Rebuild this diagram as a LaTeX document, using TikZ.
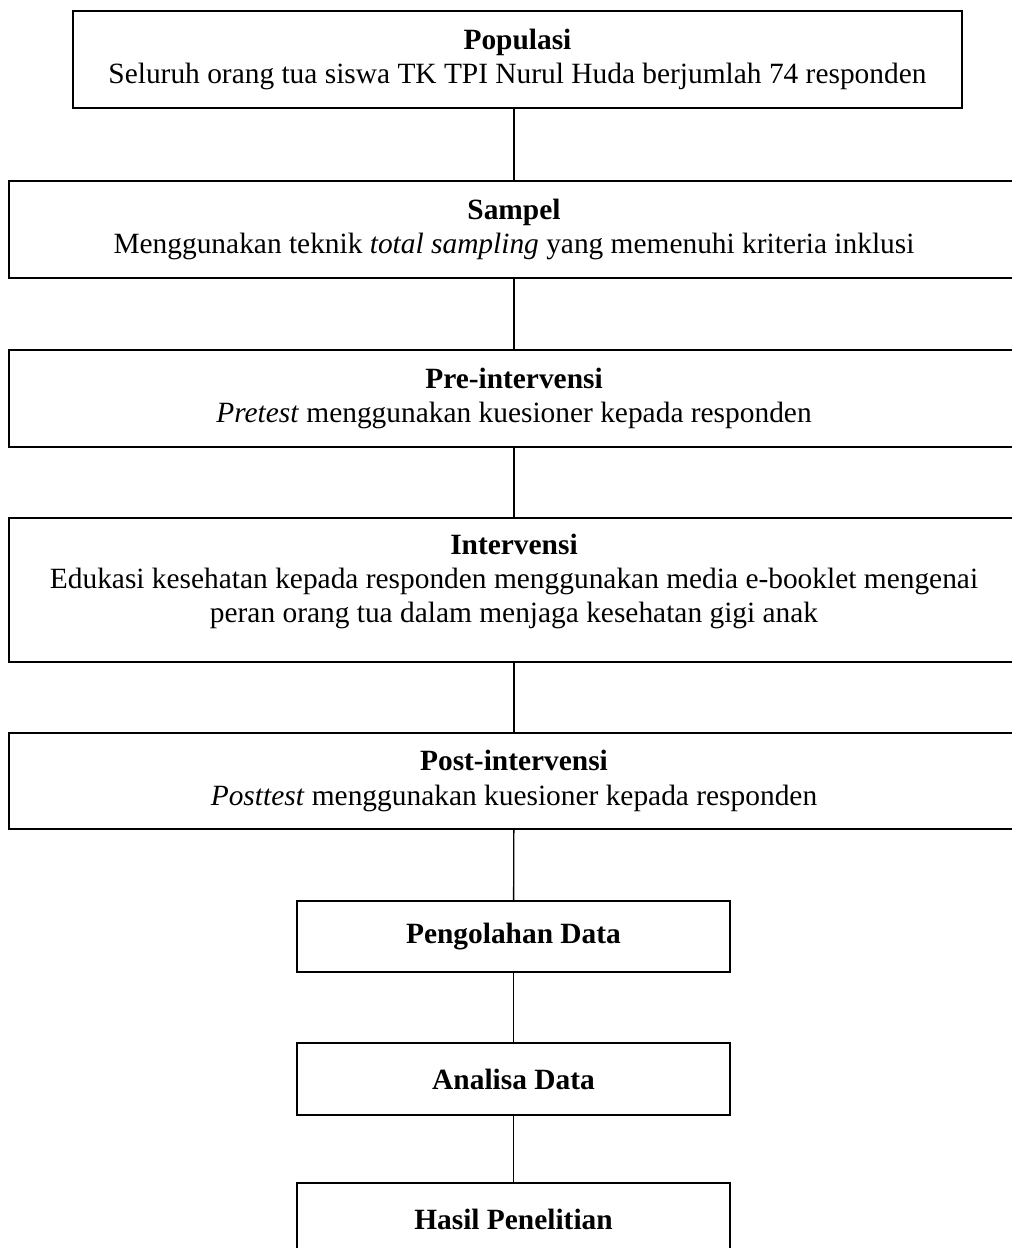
\documentclass[tikz,border=0pt]{standalone}
\usepackage{fontspec}
\setmainfont{Liberation Serif}
\usepackage{tikz}
\usetikzlibrary{positioning}

\begin{document}
\begin{tikzpicture}[x=0.415pt, y=-0.415pt, font=\fontsize{12.2}{14.2}\selectfont]
  \tikzstyle{stage}=[draw, line width=0.85pt, align=center, inner sep=0pt]
  \tikzstyle{link}=[line width=0.55pt]
  \clip (0,0) rectangle (1012,1248);
  \useasboundingbox (0,0) rectangle (1012,1248);
  \node[stage, minimum width=889*0.415pt, minimum height=97*0.415pt] (pop) at (517.5,59.5)
    {\textbf{Populasi}\\ Seluruh orang tua siswa TK TPI Nurul Huda berjumlah 74 responden};
  \node[stage, minimum width=1010*0.415pt, minimum height=97*0.415pt] (samp) at (514,229.5)
    {\textbf{Sampel}\\ Menggunakan teknik \textit{total sampling} yang memenuhi kriteria inklusi};
  \node[stage, minimum width=1010*0.415pt, minimum height=97*0.415pt] (pre) at (514,398.5)
    {\textbf{Pre-intervensi}\\ \textit{Pretest} menggunakan kuesioner kepada responden};
  \node[stage, minimum width=1010*0.415pt, minimum height=144*0.415pt] (intv) at (514,590)
    {\textbf{Intervensi}\\ Edukasi kesehatan kepada responden menggunakan media e-booklet mengenai\\ peran orang tua dalam menjaga kesehatan gigi anak\rule[-9.5pt]{0pt}{0pt}};
  \node[stage, minimum width=1010*0.415pt, minimum height=96*0.415pt] (post) at (514,781)
    {\textbf{Post-intervensi}\\ \textit{Posttest} menggunakan kuesioner kepada responden};
  \node[stage, minimum width=433*0.415pt, minimum height=71*0.415pt] (olah) at (513.5,936.5)
    {\textbf{Pengolahan Data}};
  \node[stage, minimum width=433*0.415pt, minimum height=72*0.415pt] (anls) at (513.5,1079)
    {\textbf{Analisa Data}};
  \node[stage, minimum width=433*0.415pt, minimum height=72*0.415pt] (hasil) at (513.5,1219)
    {\textbf{Hasil Penelitian}};
  \draw[link] (samp.north |- pop.south) -- (samp.north);
  \draw[link] (samp) -- (pre);
  \draw[link] (pre) -- (intv);
  \draw[link] (intv) -- (post);
  \draw[link] (post) -- (olah);
  \draw[link] (olah) -- (anls);
  \draw[link] (anls) -- (hasil);
\end{tikzpicture}
\end{document}
